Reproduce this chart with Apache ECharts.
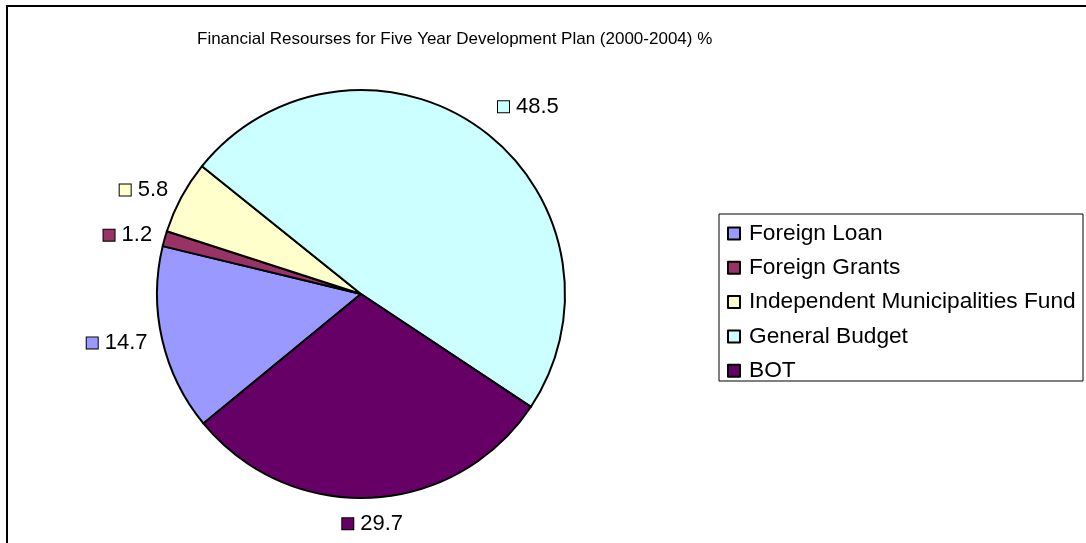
<!DOCTYPE html>
<html>
<head>
<meta charset="utf-8">
<title>Financial Resourses</title>
<script src="https://cdn.jsdelivr.net/npm/echarts@6/dist/echarts.min.js"></script>
<style>
    html, body { margin: 0; padding: 0; background: #fff; }
    #chart { width: 1086px; height: 543px; }
</style>
</head>
<body>
<div id="chart"></div>
<script>
// data
var categories = ['Foreign Loan', 'Foreign Grants', 'Independent Municipalities Fund', 'General Budget', 'BOT'];
var values = [14.7, 1.2, 5.8, 48.5, 29.7];
var colors = ['#9999FF', '#993366', '#FFFFCC', '#CCFFFF', '#660066'];
var titleText = 'Financial Resourses for Five Year Development Plan (2000-2004) %';

var FONT = '"Liberation Sans", Arial, sans-serif';
// how far each value label sits outside the pie (Excel puts them by hand-ish)
var labelGap = [15, 13, 15, 28, 26];

// one small square marker per slice for the data labels
var rich = { v: { fontSize: 22, fontFamily: FONT, color: '#000', padding: [0, 0, 0, 7] } };
categories.forEach(function (c, i) {
    rich['m' + i] = {
        width: 11, height: 11,
        backgroundColor: colors[i],
        borderColor: '#000', borderWidth: 1
    };
});

var pieData = categories.map(function (c, i) {
    return {
        name: c,
        value: values[i],
        itemStyle: { color: colors[i] },
        labelLine: { length: labelGap[i] }
    };
});

var myChart = echarts.init(document.getElementById('chart'));
myChart.setOption({
    animation: false,
    backgroundColor: '#fff',
    title: {
        text: titleText,
        left: 197,
        top: 31,
        padding: 0,
        textStyle: { fontSize: 17, fontWeight: 'normal', fontFamily: FONT, color: '#000' }
    },
    legend: {
        orient: 'vertical',
        left: 727,
        top: 222,
        padding: 0,
        icon: 'rect',
        itemWidth: 12,
        itemHeight: 12,
        itemGap: 11.3,
        textStyle: { fontSize: 22.7, lineHeight: 22, fontFamily: FONT, color: '#000', padding: [0, 0, 0, 4] }
    },
    graphic: [{
        type: 'rect',
        shape: { x: 7, y: 6, width: 1100, height: 600 },
        style: { fill: 'none', stroke: '#000', lineWidth: 2 },
        silent: true
    }, {
        type: 'rect',
        shape: { x: 719, y: 214, width: 364, height: 167 },
        style: { fill: 'none', stroke: '#000', lineWidth: 1 },
        silent: true
    }],
    series: [{
        type: 'pie',
        center: [361, 294],
        radius: 204,
        startAngle: 219.4,
        clockwise: true,
        avoidLabelOverlap: false,
        data: pieData,
        itemStyle: { borderColor: '#000', borderWidth: 2 },
        label: {
            show: true,
            position: 'outside',
            distanceToLabelLine: 0,
            formatter: function (p) {
                return '{m' + p.dataIndex + '|}{v|' + p.value + '}';
            },
            rich: rich
        },
        labelLine: { show: false, length: 20, length2: 0 },
        // the bottom label is centred under its slice
        labelLayout: function (params) {
            if (params.dataIndex === 4) {
                return { align: 'center' };
            }
        },
        emphasis: { disabled: true }
    }]
});
</script>
</body>
</html>
